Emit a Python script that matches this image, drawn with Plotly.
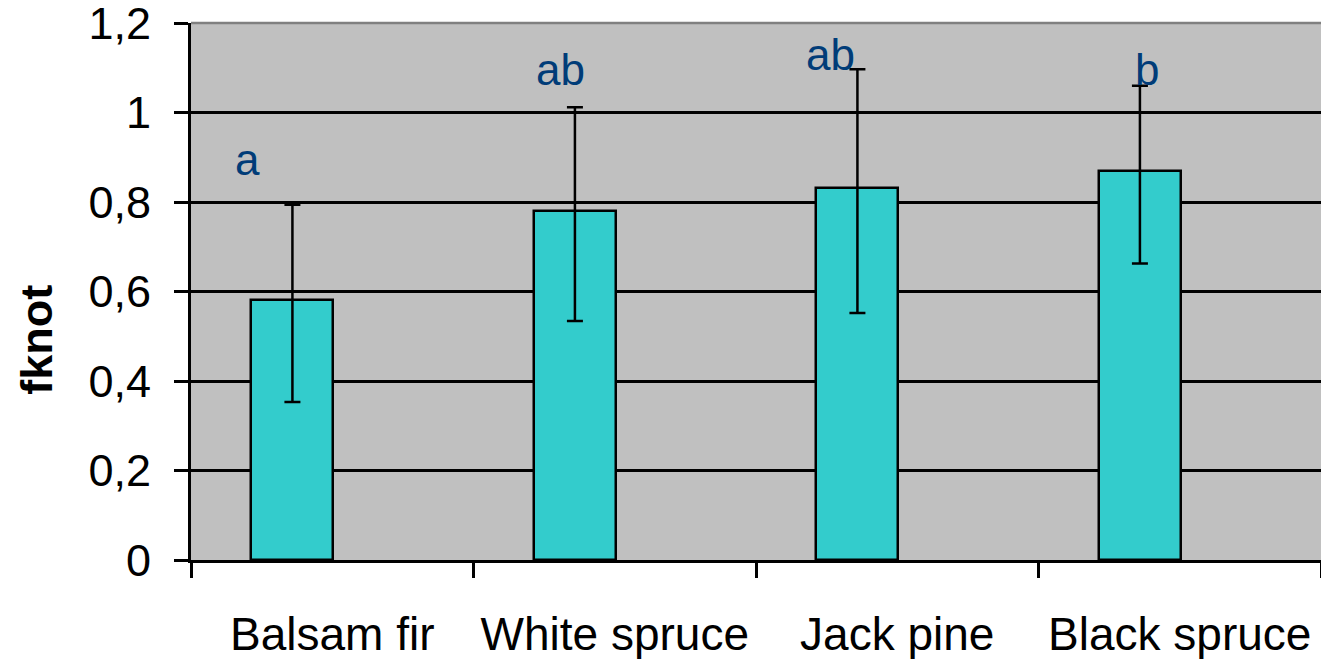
import plotly.graph_objects as go

categories = ["Balsam fir", "White spruce", "Jack pine", "Black spruce"]
means = [0.581, 0.780, 0.831, 0.870]
err_plus = [0.213, 0.232, 0.266, 0.190]
err_minus = [0.228, 0.246, 0.279, 0.207]
letters = ["a", "ab", "ab", "b"]
letter_y = [0.895, 1.097, 1.130, 1.096]
letter_xshift = [-85, -54, -67, -33]  # pixels, relative to category centre (style)
y_ticks = [0, 0.2, 0.4, 0.6, 0.8, 1.0, 1.2]

FONT = "Liberation Sans, Arial, sans-serif"

fig = go.Figure()
fig.add_trace(go.Bar(
    x=categories, y=means,
    width=0.29, offset=-0.286,
    marker=dict(color="#33CCCC", line=dict(color="black", width=2.5)),
    error_y=dict(type="data", symmetric=False, array=err_plus, arrayminus=err_minus,
                 color="black", thickness=2.5, width=8),
    showlegend=False,
))

for cat, txt, yv, xs in zip(categories, letters, letter_y, letter_xshift):
    fig.add_annotation(x=cat, y=yv, text=txt, showarrow=False,
                       xshift=xs, yanchor="middle",
                       font=dict(family=FONT, size=44, color="#003C78"))

fig.add_annotation(xref="paper", yref="paper", x=-0.1363, y=0.41, text="<b>fknot</b>",
                   textangle=-90, showarrow=False, xanchor="center", yanchor="middle",
                   font=dict(family=FONT, size=45, color="black"))

fig.add_shape(type="line", xref="paper", yref="paper", x0=0, x1=1, y0=1, y1=1,
              line=dict(color="#808080", width=2.5), layer="above")

fig.update_layout(
    width=1321, height=659,
    margin=dict(l=191, r=0, t=23, b=99, autoexpand=False),
    paper_bgcolor="white", plot_bgcolor="#C0C0C0",
    separators=", ",
    font=dict(family=FONT, size=44, color="black"),
    xaxis=dict(type="category", showline=True, linecolor="black", linewidth=3,
               ticks="outside", tickson="boundaries", ticklen=15, tickwidth=3,
               tickcolor="black", showgrid=False, ticklabelstandoff=32, tickangle=0,
               automargin=False, ticklabeloverflow="allow",
               tickfont=dict(family=FONT, size=46)),
    yaxis=dict(range=[0, 1.2003], tickmode="array", tickvals=y_ticks, showline=True,
               linecolor="black", linewidth=3,
               ticks="outside", ticklen=14, tickwidth=3, tickcolor="black",
               showgrid=True, gridcolor="black", gridwidth=2.5, zeroline=False,
               ticklabelstandoff=14, automargin=False, ticklabeloverflow="allow",
               tickfont=dict(family=FONT, size=45)),
    bargap=0.0,
)

fig.write_html("out.html", config={"displayModeBar": False},
               post_script="document.body.style.margin='0';document.body.style.overflow='hidden';")
